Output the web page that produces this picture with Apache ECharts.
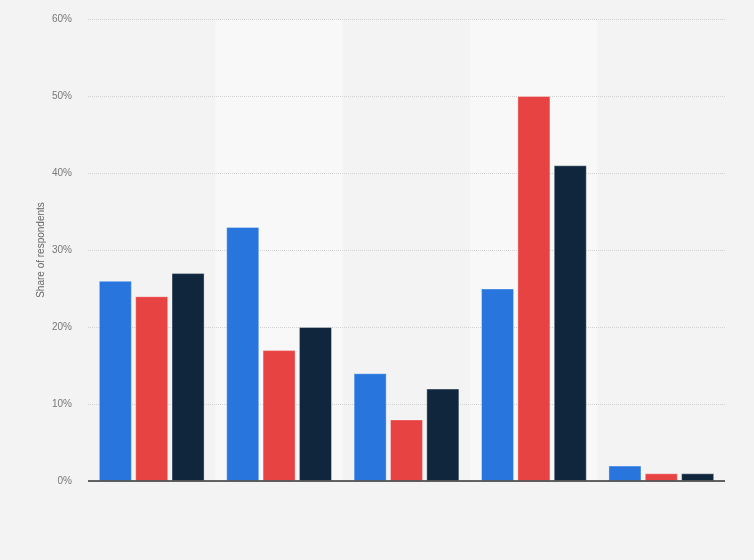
<!DOCTYPE html>
<html>
<head>
<meta charset="utf-8">
<script src="https://cdn.jsdelivr.net/npm/echarts@6/dist/echarts.min.js"></script>
<style>
  html, body { margin: 0; padding: 0; background: #f3f3f3; }
  #chart { width: 754px; height: 560px; }
</style>
</head>
<body>
<div id="chart"></div>
<script>
const categories = ['A', 'B', 'C', 'D', 'E'];
const seriesOne = [26, 33, 14, 25, 2];
const seriesTwo = [24, 17, 8, 50, 1];
const seriesThree = [27, 20, 12, 41, 1];
const yTicks = [0, 10, 20, 30, 40, 50, 60];

const chart = echarts.init(document.getElementById('chart'));

const barBorder = { borderColor: 'rgba(255,255,255,0.35)', borderWidth: 1 };

chart.setOption({
  backgroundColor: '#f3f3f3',
  animation: false,
  grid: { left: 88, right: 29, top: 19, bottom: 79 },
  xAxis: {
    type: 'category',
    data: categories,
    z: 0,
    axisLine: { show: false },
    axisTick: { show: false },
    axisLabel: { show: false },
    splitArea: { show: true, areaStyle: { color: ['#f3f3f3', '#f8f8f8'] } }
  },
  yAxis: {
    type: 'value',
    z: 1,
    min: yTicks[0],
    max: yTicks[yTicks.length - 1],
    interval: 10,
    name: 'Share of respondents',
    nameLocation: 'middle',
    nameGap: 42,
    nameMoveOverlap: false,
    nameTextStyle: { color: '#666', fontSize: 10, fontFamily: 'Arial, Liberation Sans' },
    axisLine: { show: false },
    axisTick: { show: false },
    axisLabel: {
      color: '#777',
      fontSize: 10,
      fontFamily: 'Arial, Liberation Sans',
      margin: 16,
      formatter: '{value}%'
    },
    splitLine: { lineStyle: { color: '#d2d2d2', type: [1, 1] } }
  },
  series: [
    {
      type: 'bar',
      data: seriesOne,
      barGap: '10%',
      barCategoryGap: '17%',
      itemStyle: Object.assign({ color: '#2876dd' }, barBorder)
    },
    {
      type: 'bar',
      data: seriesTwo,
      barGap: '10%',
      barCategoryGap: '17%',
      itemStyle: Object.assign({ color: '#e84343' }, barBorder)
    },
    {
      type: 'bar',
      data: seriesThree,
      barGap: '10%',
      barCategoryGap: '17%',
      itemStyle: Object.assign({ color: '#10263d' }, barBorder),
      markLine: {
        silent: true,
        symbol: 'none',
        label: { show: false },
        lineStyle: { color: '#333', width: 1.5, type: 'solid' },
        data: [{ yAxis: yTicks[0] }]
      }
    }
  ]
});

window.addEventListener('resize', () => chart.resize());
</script>
</body>
</html>
